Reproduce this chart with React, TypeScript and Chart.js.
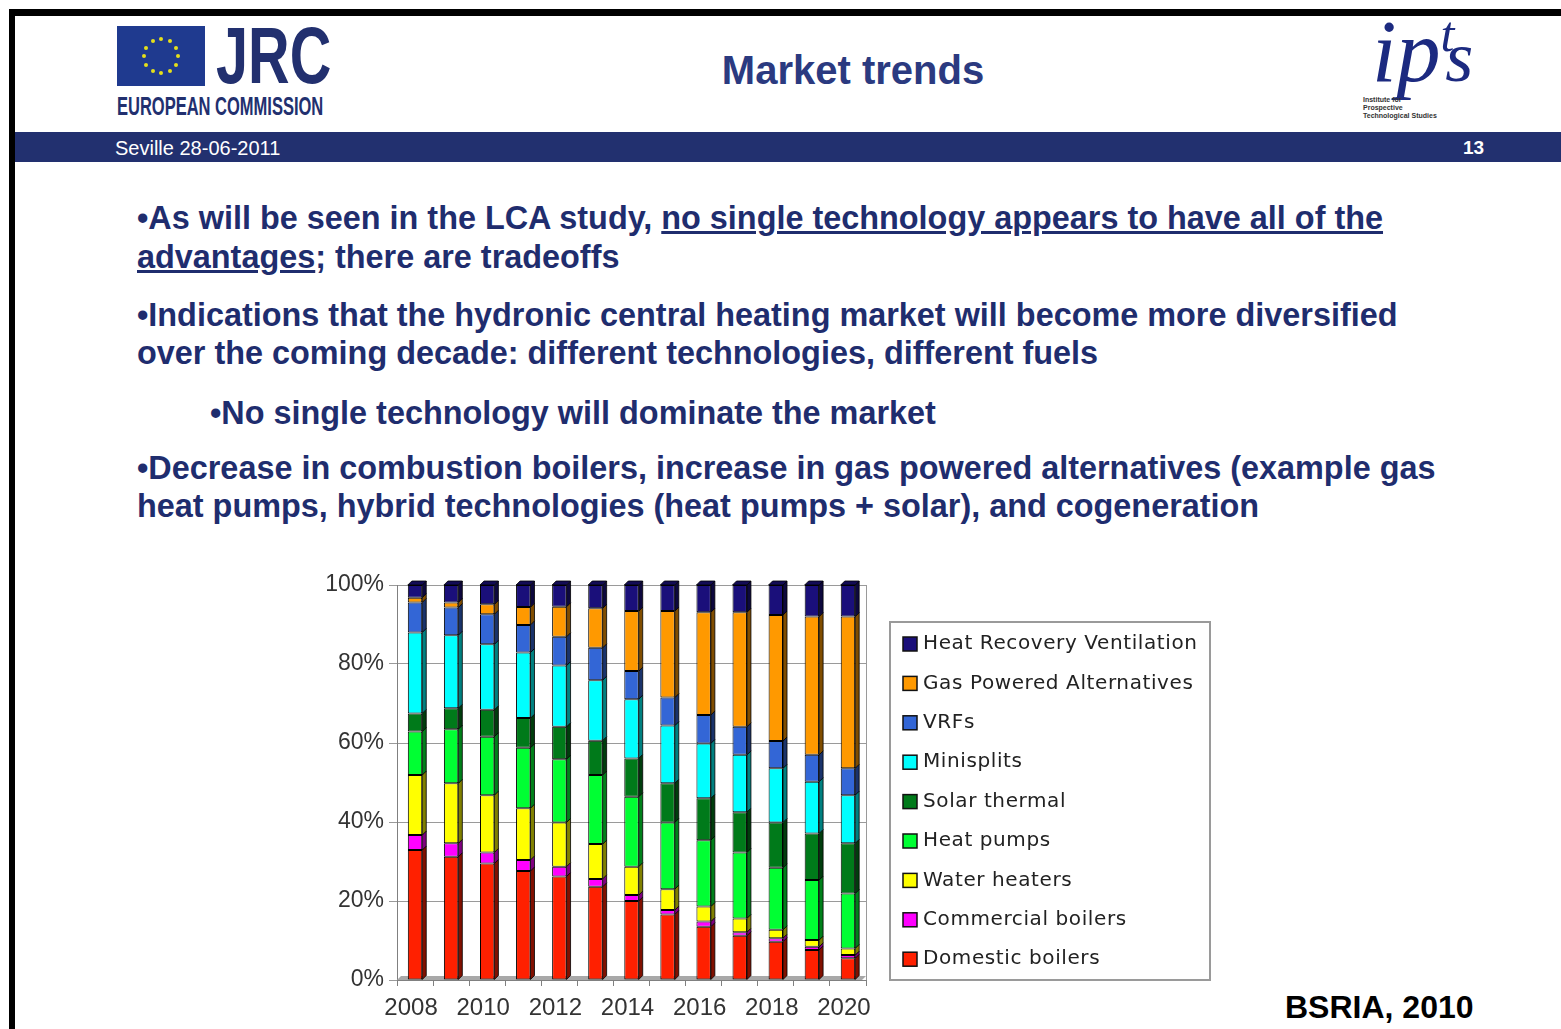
import React, { useEffect, useRef } from 'react';
import { Chart, registerables } from 'chart.js';

Chart.register(...registerables);

// ---- Data (percent share of market, stacked bottom to top) ----
const years = ['2008', '2009', '2010', '2011', '2012', '2013', '2014', '2015', '2016', '2017', '2018', '2019', '2020'];
const domesticBoilers = [32.9, 31.2, 29.5, 27.6, 26.2, 23.6, 20.0, 16.6, 13.5, 11.2, 9.7, 7.6, 5.5];
const commercialBoilers = [3.8, 3.4, 2.8, 2.8, 2.5, 2.0, 1.5, 1.1, 1.3, 0.9, 0.9, 0.8, 0.8];
const waterHeaters = [15.2, 15.2, 14.5, 13.1, 11.2, 8.8, 7.2, 5.3, 3.8, 3.5, 2.1, 1.7, 1.7];
const heatPumps = [11.0, 13.7, 14.8, 15.3, 16.0, 17.5, 17.7, 16.9, 16.8, 16.7, 15.7, 15.2, 13.9];
const solarThermal = [4.6, 5.3, 6.8, 7.5, 8.2, 8.7, 9.7, 9.9, 10.6, 10.2, 11.5, 11.8, 12.7];
const minisplits = [20.5, 18.5, 16.6, 16.6, 15.5, 15.3, 15.0, 14.6, 13.9, 14.5, 13.7, 13.1, 12.2];
const vrfs = [7.6, 7.0, 7.6, 7.0, 7.3, 8.2, 7.1, 7.1, 7.2, 7.1, 6.9, 6.8, 6.8];
const gasPowered = [1.2, 1.3, 2.5, 4.5, 7.6, 10.0, 15.2, 21.9, 26.0, 29.0, 31.9, 35.0, 38.4];
const heatRecovery = [3.2, 4.4, 4.9, 5.6, 5.5, 5.9, 6.6, 6.6, 6.9, 6.9, 7.6, 8.0, 8.0];

const seriesLabels = [
  'Domestic boilers',
  'Commercial boilers',
  'Water heaters',
  'Heat pumps',
  'Solar thermal',
  'Minisplits',
  'VRFs',
  'Gas Powered Alternatives',
  'Heat Recovery Ventilation',
];
const seriesData = [
  domesticBoilers,
  commercialBoilers,
  waterHeaters,
  heatPumps,
  solarThermal,
  minisplits,
  vrfs,
  gasPowered,
  heatRecovery,
];
const seriesColors = ['#ff2000', '#ff00ff', '#ffff00', '#00ff33', '#007a1a', '#00ffff', '#3366d6', '#ff9900', '#1a0f7a'];
const yTicks = [0, 20, 40, 60, 80, 100];

const FONT = '"Liberation Sans", Arial, Helvetica, sans-serif';
const NAVY = '#1f2d6e';

function darken(hex: string, f: number) {
  const n = parseInt(hex.slice(1), 16);
  const r = Math.round(((n >> 16) & 255) * f);
  const g = Math.round(((n >> 8) & 255) * f);
  const b = Math.round((n & 255) * f);
  return `rgb(${r},${g},${b})`;
}

const depth = 4;

const threeDPlugin = {
  id: 'threeD',
  beforeDatasetsDraw(chart: any) {
    const { ctx, chartArea } = chart;
    ctx.save();
    ctx.strokeStyle = '#9a9a9a';
    ctx.lineWidth = 1;
    ctx.beginPath();
    ctx.moveTo(chartArea.right + 0.5, chartArea.top);
    ctx.lineTo(chartArea.right + 0.5, chartArea.bottom);
    ctx.stroke();
    ctx.fillStyle = '#a8a8a8';
    ctx.beginPath();
    ctx.moveTo(chartArea.left, chartArea.bottom);
    ctx.lineTo(chartArea.left + depth, chartArea.bottom - depth);
    ctx.lineTo(chartArea.right, chartArea.bottom - depth);
    ctx.lineTo(chartArea.right - depth, chartArea.bottom);
    ctx.closePath();
    ctx.fill();
    ctx.restore();
  },
  afterDatasetsDraw(chart: any) {
    const { ctx } = chart;
    const n = chart.data.datasets.length;
    ctx.save();
    ctx.lineWidth = 0.8;
    ctx.strokeStyle = '#000';
    for (let d = 0; d < n; d++) {
      const meta = chart.getDatasetMeta(d);
      const color = chart.data.datasets[d].backgroundColor as string;
      meta.data.forEach((el: any) => {
        const xr = el.x + el.width / 2;
        const xl = el.x - el.width / 2;
        const yt = Math.min(el.y, el.base);
        const yb = Math.max(el.y, el.base);
        ctx.fillStyle = darken(color, 0.5);
        ctx.beginPath();
        ctx.moveTo(xr, yt);
        ctx.lineTo(xr + depth, yt - depth);
        ctx.lineTo(xr + depth, yb - depth);
        ctx.lineTo(xr, yb);
        ctx.closePath();
        ctx.fill();
        ctx.stroke();
        if (d === n - 1) {
          ctx.fillStyle = darken(color, 0.7);
          ctx.beginPath();
          ctx.moveTo(xl, yt);
          ctx.lineTo(xl + depth, yt - depth);
          ctx.lineTo(xr + depth, yt - depth);
          ctx.lineTo(xr, yt);
          ctx.closePath();
          ctx.fill();
          ctx.stroke();
        }
      });
    }
    ctx.restore();
  },
};

const legendPlugin = {
  id: 'boxLegend',
  afterDraw(chart: any) {
    const { ctx, chartArea } = chart;
    const x0 = chartArea.right + 24;
    const w = 320;
    const h = 358;
    const y0 = chartArea.bottom - h;
    ctx.save();
    ctx.strokeStyle = '#9a9a9a';
    ctx.lineWidth = 2;
    ctx.strokeRect(x0, y0, w, h);
    ctx.font = '20px "DejaVu Sans", Verdana, sans-serif';
    try {
      (ctx as any).letterSpacing = '0.6px';
    } catch (e) {
      /* ignore */
    }
    ctx.textBaseline = 'middle';
    ctx.textAlign = 'left';
    const items = chart.data.datasets.slice().reverse();
    items.forEach((ds: any, k: number) => {
      const cy = y0 + 22 + k * 39.4;
      ctx.fillStyle = ds.backgroundColor;
      ctx.fillRect(x0 + 13, cy - 7, 14, 14);
      ctx.lineWidth = 1.5;
      ctx.strokeStyle = '#111';
      ctx.strokeRect(x0 + 13, cy - 7, 14, 14);
      ctx.fillStyle = '#222';
      ctx.fillText(ds.label, x0 + 33, cy);
    });
    ctx.restore();
  },
};

function MarketChart() {
  const ref = useRef<HTMLCanvasElement>(null);
  useEffect(() => {
    if (!ref.current) return;
    const chart = new Chart(ref.current, {
      type: 'bar',
      data: {
        labels: years,
        datasets: seriesLabels.map((label, i) => ({
          label,
          data: seriesData[i],
          backgroundColor: seriesColors[i],
          borderColor: '#000',
          borderWidth: 1,
          borderSkipped: false,
          barPercentage: 0.4,
          categoryPercentage: 1,
        })),
      },
      options: {
        animation: false,
        responsive: false,
        maintainAspectRatio: false,
        layout: { padding: { top: 25, right: 364, left: 0, bottom: 0 } },
        plugins: { legend: { display: false }, tooltip: { enabled: false } },
        scales: {
          x: {
            stacked: true,
            grid: { offset: true, drawOnChartArea: false, tickLength: 6, color: '#808080' },
            border: { color: '#808080' },
            ticks: {
              autoSkip: false,
              maxRotation: 0,
              padding: 8,
              labelOffset: -4,
              color: '#333',
              font: { family: FONT, size: 24 },
              callback: (_v: any, i: number) => (i % 2 === 0 ? years[i] : ''),
            },
            afterFit: (s: any) => {
              s.height = 49;
            },
          },
          y: {
            stacked: true,
            min: 0,
            max: 100,
            afterBuildTicks: (s: any) => {
              s.ticks = yTicks.map((v) => ({ value: v }));
            },
            ticks: {
              padding: 5,
              color: '#333',
              font: { family: FONT, size: 23 },
              callback: (v: any) => v + '%',
            },
            grid: { color: '#9a9a9a', tickLength: 8 },
            border: { color: '#808080' },
            afterFit: (s: any) => {
              s.width = 97;
            },
          },
        },
      },
      plugins: [threeDPlugin, legendPlugin],
    } as any);
    return () => chart.destroy();
  }, []);
  return (
    <canvas
      ref={ref}
      width={930}
      height={469}
      style={{ position: 'absolute', left: 300, top: 560, width: 930, height: 469, display: 'block' }}
    />
  );
}

const stars = Array.from({ length: 12 }, (_, i) => i);

function Line({ top, left, children }: { top: number; left: number; children: React.ReactNode }) {
  return (
    <div
      style={{
        position: 'absolute',
        top: top - 19,
        left,
        height: 38,
        lineHeight: '38px',
        fontSize: 32.4,
        fontWeight: 'bold',
        color: NAVY,
        fontFamily: FONT,
        whiteSpace: 'nowrap',
      }}
    >
      {children}
    </div>
  );
}

export default function App() {
  return (
    <div
      style={{
        position: 'absolute',
        left: 0,
        top: 0,
        width: 1561,
        height: 1029,
        overflow: 'hidden',
        background: '#fff',
        fontFamily: FONT,
      }}
    >
      {/* frame */}
      <div style={{ position: 'absolute', left: 9, top: 9, width: 1552, height: 7, background: '#000' }} />
      <div style={{ position: 'absolute', left: 9, top: 9, width: 6, height: 1020, background: '#000' }} />
      {/* blue band */}
      <div style={{ position: 'absolute', left: 15, top: 132, width: 1546, height: 30, background: '#22306f' }} />
      <div style={{ position: 'absolute', left: 115, top: 136, color: '#fff', fontSize: 20, lineHeight: '24px', fontFamily: FONT }}>
        Seville 28-06-2011
      </div>
      <div style={{ position: 'absolute', left: 1463, top: 137, color: '#fff', fontSize: 19, lineHeight: '22px', fontWeight: 'bold', fontFamily: FONT }}>
        13
      </div>

      {/* JRC logo */}
      <div style={{ position: 'absolute', left: 117, top: 26, width: 88, height: 60, background: '#1f3a8f' }}>
        {stars.map((i) => {
          const a = (i / 12) * Math.PI * 2;
          return (
            <div
              key={i}
              style={{
                position: 'absolute',
                left: 44 + 17 * Math.sin(a) - 2,
                top: 30 - 17 * Math.cos(a) - 2,
                width: 4,
                height: 4,
                borderRadius: 2,
                background: '#e6df1a',
              }}
            />
          );
        })}
      </div>
      <div
        style={{
          position: 'absolute',
          left: 216,
          top: 14,
          fontSize: 80,
          lineHeight: '84px',
          fontWeight: 'bold',
          color: '#22306f',
          fontFamily: FONT,
          transform: 'scaleX(0.72)',
          transformOrigin: 'left top',
          whiteSpace: 'nowrap',
        }}
      >
        JRC
      </div>
      <div
        style={{
          position: 'absolute',
          left: 117,
          top: 93,
          fontSize: 25,
          lineHeight: '26px',
          fontWeight: 'bold',
          color: '#22306f',
          fontFamily: FONT,
          transform: 'scaleX(0.66)',
          transformOrigin: 'left top',
          whiteSpace: 'nowrap',
        }}
      >
        EUROPEAN COMMISSION
      </div>

      {/* title */}
      <div
        style={{
          position: 'absolute',
          left: 0,
          width: 1706,
          top: 46,
          textAlign: 'center',
          fontSize: 40,
          lineHeight: '48px',
          fontWeight: 'bold',
          color: '#2b3a80',
          fontFamily: FONT,
        }}
      >
        Market trends
      </div>

      {/* ipts logo */}
      <div
        style={{
          position: 'absolute',
          left: 1372,
          top: 2,
          fontFamily: '"Liberation Serif", "Times New Roman", serif',
          fontStyle: 'italic',
          color: '#1c2a80',
          whiteSpace: 'nowrap',
        }}
      >
        <span style={{ fontSize: 88, lineHeight: '100px' }}>ip</span>
        <span style={{ fontSize: 50, position: 'relative', top: -30 }}>t</span>
        <span style={{ fontSize: 72, position: 'relative', left: -9 }}>s</span>
      </div>
      <div
        style={{
          position: 'absolute',
          left: 1363,
          top: 96,
          fontSize: 7,
          lineHeight: '8px',
          fontWeight: 'bold',
          color: '#333',
          fontFamily: FONT,
        }}
      >
        Institute for
        <br />
        Prospective
        <br />
        Technological Studies
      </div>

      {/* body text */}
      <Line top={218} left={137}>
        •As will be seen in the LCA study, <u>no single technology appears to have all of the</u>
      </Line>
      <Line top={257} left={137}>
        <u>advantages</u>; there are tradeoffs
      </Line>
      <Line top={315} left={137}>
        •Indications that the hydronic central heating market will become more diversified
      </Line>
      <Line top={353} left={137}>
        over the coming decade: different technologies, different fuels
      </Line>
      <Line top={413} left={210}>
        •No single technology will dominate the market
      </Line>
      <Line top={468} left={137}>
        •Decrease in combustion boilers, increase in gas powered alternatives (example gas
      </Line>
      <Line top={506} left={137}>
        heat pumps, hybrid technologies (heat pumps + solar), and cogeneration
      </Line>

      <MarketChart />

      <div
        style={{
          position: 'absolute',
          left: 1285,
          top: 988,
          fontSize: 32,
          lineHeight: '38px',
          fontWeight: 'bold',
          color: '#000',
          fontFamily: FONT,
          whiteSpace: 'nowrap',
        }}
      >
        BSRIA, 2010
      </div>
    </div>
  );
}
